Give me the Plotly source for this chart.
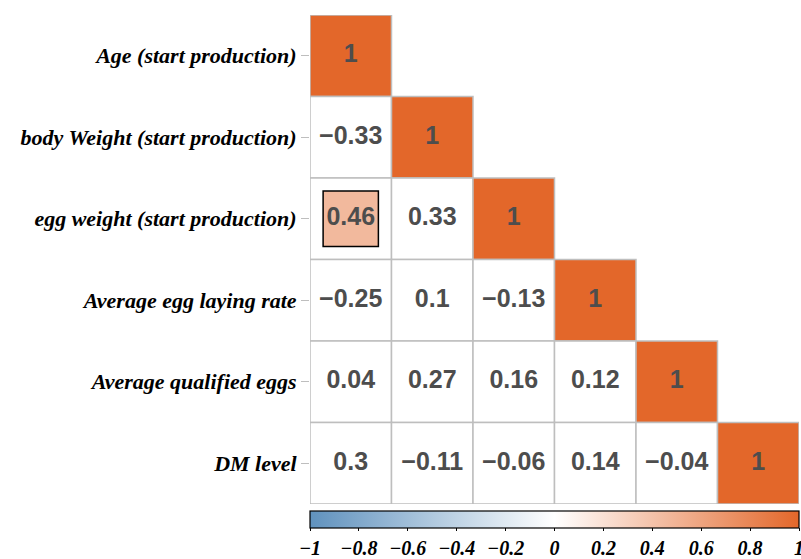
import plotly.graph_objects as go
from plotly.colors import sample_colorscale
import math

labels = ["Age (start production)", "body Weight (start production)",
          "egg weight (start production)", "Average egg laying rate",
          "Average qualified eggs", "DM level"]

# lower-triangular correlation rows
corr_rows = [
    [1],
    [-0.33, 1],
    [0.46, 0.33, 1],
    [-0.25, 0.1, -0.13, 1],
    [0.04, 0.27, 0.16, 0.12, 1],
    [0.3, -0.11, -0.06, 0.14, -0.04, 1],
]

# off-diagonal cells shown as coloured squares (row, col)
significant = [(2, 0)]

cb_ticks = [-1, -0.8, -0.6, -0.4, -0.2, 0, 0.2, 0.4, 0.6, 0.8, 1]

colorscale = [[0.0, "rgb(96,146,190)"], [0.5, "rgb(255,255,255)"], [1.0, "rgb(227,103,42)"]]


def col(v):
    return sample_colorscale(colorscale, [(v + 1) / 2])[0]


shapes = []
tx, ty, tt = [], [], []
for i, row in enumerate(corr_rows):
    for j, v in enumerate(row):
        diag = (i == j)
        shapes.append(dict(type="rect", xref="x", yref="y", layer="below",
                           x0=j - 0.5, x1=j + 0.5, y0=i - 0.5, y1=i + 0.5,
                           fillcolor=col(v) if diag else "white",
                           line=dict(color="#BEBEBE", width=1.5)))
        if (i, j) in significant:
            h = 0.5 * math.sqrt(abs(v))
            shapes.append(dict(type="rect", xref="x", yref="y", layer="below",
                               x0=j - h, x1=j + h, y0=i - h, y1=i + h,
                               fillcolor=col(v),
                               line=dict(color="black", width=1.5)))
        tx.append(j)
        ty.append(i)
        tt.append(("%g" % v).replace("-", "\u2212"))

fig = go.Figure()
fig.add_trace(go.Scatter(
    x=tx, y=ty, text=tt, mode="text", hoverinfo="skip",
    textfont=dict(family="Liberation Sans, Arial", size=25, color="#4D4D4D", weight="bold"),
    showlegend=False))

fig.add_trace(go.Scatter(
    x=[0, 0], y=[0, 0], mode="markers", hoverinfo="skip", showlegend=False,
    marker=dict(color=[-1, 1], cmin=-1, cmax=1, colorscale=colorscale, opacity=0, size=1,
                showscale=True,
                colorbar=dict(orientation="h", x=0, xanchor="left", y=-0.014, yanchor="top",
                              len=1, lenmode="fraction", thickness=17, xpad=0, ypad=0,
                              outlinewidth=1.2, outlinecolor="black",
                              ticks="outside", ticklen=3, tickcolor="black", tickwidth=1.2,
                              tickvals=cb_ticks, ticklabeloverflow="allow",
                              tickfont=dict(family="Liberation Serif, Times New Roman", size=20,
                                            color="black", style="italic", weight="bold")))))

fig.update_layout(
    width=801, height=559,
    margin=dict(l=310, r=2, t=15, b=55, autoexpand=False),
    plot_bgcolor="white", paper_bgcolor="white",
    shapes=shapes,
    xaxis=dict(range=[-0.5, 5.5], showgrid=False, zeroline=False, showticklabels=False,
               ticks="", showline=False, fixedrange=True, automargin=False),
    yaxis=dict(range=[5.5, -0.5], showgrid=False, zeroline=False, showline=False,
               automargin=False, fixedrange=True,
               tickvals=list(range(len(labels))), ticktext=labels,
               ticks="outside", ticklen=8, tickcolor="#BEBEBE", tickwidth=1.2,
               tickfont=dict(family="Liberation Serif, Times New Roman", size=22,
                             color="black", style="italic", weight="bold")),
)

fig.write_html("out.html", config={"displayModeBar": False},
               post_script="document.body.style.margin='0';document.body.style.overflow='hidden';")
